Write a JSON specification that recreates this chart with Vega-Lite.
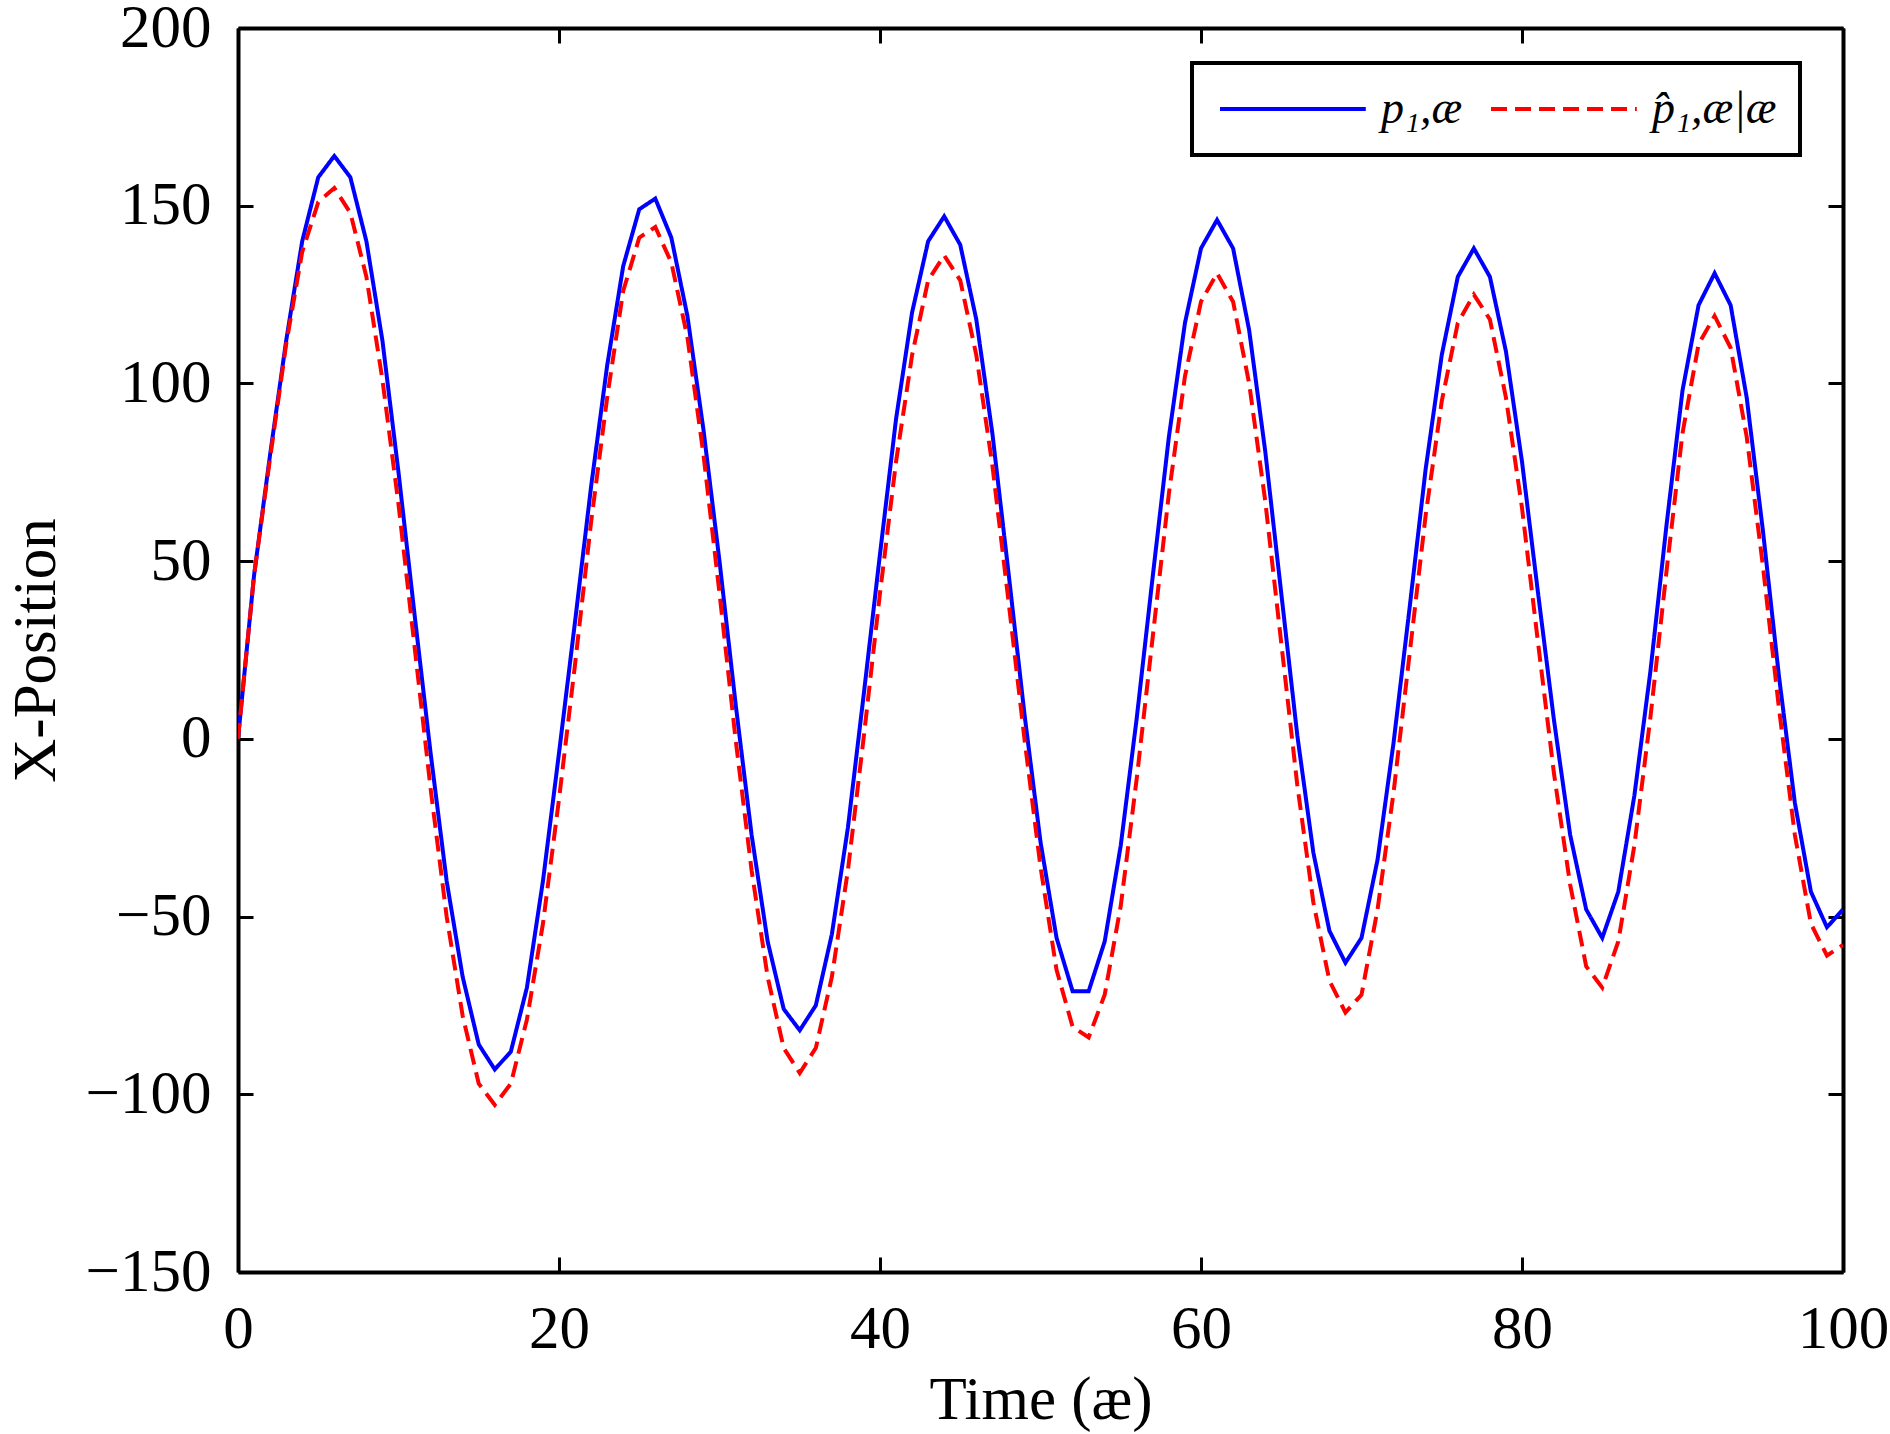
{
  "$schema": "https://vega.github.io/schema/vega-lite/v6.json",
  "width": 1605,
  "height": 1244,
  "autosize": {"type": "none"},
  "padding": {"left": 238, "top": 28, "right": 47, "bottom": 162},
  "background": "white",
  "data": {
    "values": [
      {"t": 0, "p": 0, "q": 0}, {"t": 1, "p": 46, "q": 46}, {"t": 2, "p": 80, "q": 79},
      {"t": 3, "p": 112, "q": 111}, {"t": 4, "p": 140, "q": 137}, {"t": 5, "p": 158, "q": 151},
      {"t": 6, "p": 164, "q": 155}, {"t": 7, "p": 158, "q": 148}, {"t": 8, "p": 140, "q": 130},
      {"t": 9, "p": 112, "q": 101}, {"t": 10, "p": 75, "q": 66}, {"t": 11, "p": 35, "q": 26},
      {"t": 12, "p": -4, "q": -14}, {"t": 13, "p": -40, "q": -50}, {"t": 14, "p": -67, "q": -78},
      {"t": 15, "p": -86, "q": -97}, {"t": 16, "p": -93, "q": -103}, {"t": 17, "p": -88, "q": -97},
      {"t": 18, "p": -70, "q": -79}, {"t": 19, "p": -40, "q": -52}, {"t": 20, "p": -4, "q": -17},
      {"t": 21, "p": 33, "q": 21}, {"t": 22, "p": 71, "q": 61}, {"t": 23, "p": 105, "q": 96},
      {"t": 24, "p": 133, "q": 126}, {"t": 25, "p": 149, "q": 141}, {"t": 26, "p": 152, "q": 144},
      {"t": 27, "p": 141, "q": 134}, {"t": 28, "p": 119, "q": 113}, {"t": 29, "p": 87, "q": 80},
      {"t": 30, "p": 50, "q": 41}, {"t": 31, "p": 10, "q": 0}, {"t": 32, "p": -27, "q": -37},
      {"t": 33, "p": -57, "q": -67}, {"t": 34, "p": -76, "q": -87}, {"t": 35, "p": -82, "q": -94},
      {"t": 36, "p": -75, "q": -87}, {"t": 37, "p": -55, "q": -67}, {"t": 38, "p": -25, "q": -37},
      {"t": 39, "p": 13, "q": 1}, {"t": 40, "p": 52, "q": 41}, {"t": 41, "p": 90, "q": 78},
      {"t": 42, "p": 120, "q": 108}, {"t": 43, "p": 140, "q": 129}, {"t": 44, "p": 147, "q": 136},
      {"t": 45, "p": 139, "q": 129}, {"t": 46, "p": 118, "q": 108}, {"t": 47, "p": 86, "q": 77},
      {"t": 48, "p": 47, "q": 39}, {"t": 49, "p": 7, "q": 0}, {"t": 50, "p": -29, "q": -36},
      {"t": 51, "p": -56, "q": -65}, {"t": 52, "p": -71, "q": -81}, {"t": 53, "p": -71, "q": -84},
      {"t": 54, "p": -57, "q": -72}, {"t": 55, "p": -30, "q": -47}, {"t": 56, "p": 6, "q": -11},
      {"t": 57, "p": 46, "q": 29}, {"t": 58, "p": 85, "q": 69}, {"t": 59, "p": 117, "q": 102},
      {"t": 60, "p": 138, "q": 123}, {"t": 61, "p": 146, "q": 131}, {"t": 62, "p": 138, "q": 123},
      {"t": 63, "p": 115, "q": 100}, {"t": 64, "p": 81, "q": 67}, {"t": 65, "p": 41, "q": 27},
      {"t": 66, "p": 1, "q": -13}, {"t": 67, "p": -32, "q": -46}, {"t": 68, "p": -54, "q": -68},
      {"t": 69, "p": -63, "q": -77}, {"t": 70, "p": -56, "q": -72}, {"t": 71, "p": -34, "q": -48},
      {"t": 72, "p": -1, "q": -15}, {"t": 73, "p": 37, "q": 24}, {"t": 74, "p": 76, "q": 63},
      {"t": 75, "p": 108, "q": 95}, {"t": 76, "p": 130, "q": 117}, {"t": 77, "p": 138, "q": 125},
      {"t": 78, "p": 130, "q": 118}, {"t": 79, "p": 109, "q": 96}, {"t": 80, "p": 78, "q": 65},
      {"t": 81, "p": 41, "q": 27}, {"t": 82, "p": 5, "q": -10}, {"t": 83, "p": -27, "q": -41},
      {"t": 84, "p": -48, "q": -64}, {"t": 85, "p": -56, "q": -70}, {"t": 86, "p": -43, "q": -57},
      {"t": 87, "p": -16, "q": -30}, {"t": 88, "p": 19, "q": 6}, {"t": 89, "p": 60, "q": 47},
      {"t": 90, "p": 98, "q": 86}, {"t": 91, "p": 122, "q": 111}, {"t": 92, "p": 131, "q": 119},
      {"t": 93, "p": 122, "q": 110}, {"t": 94, "p": 96, "q": 85}, {"t": 95, "p": 59, "q": 49},
      {"t": 96, "p": 18, "q": 9}, {"t": 97, "p": -18, "q": -27}, {"t": 98, "p": -43, "q": -52},
      {"t": 99, "p": -53, "q": -61}, {"t": 100, "p": -48, "q": -58}
    ]
  },
  "transform": [{"fold": ["p", "q"], "as": ["series", "value"]}],
  "layer": [
    {
      "mark": {"type": "line", "strokeWidth": 4, "clip": true},
      "encoding": {
        "x": {
          "field": "t",
          "type": "quantitative",
          "scale": {"domain": [0, 100], "nice": false},
          "axis": {
            "orient": "bottom",
            "values": [0, 20, 40, 60, 80, 100],
            "labelPadding": 42,
            "title": "Time (æ)",
            "titleBaseline": "alphabetic",
            "titleY": 146
          }
        },
        "y": {
          "field": "value",
          "type": "quantitative",
          "scale": {"domain": [-150, 200], "nice": false},
          "axis": {
            "orient": "left",
            "values": [-150, -100, -50, 0, 50, 100, 150, 200],
            "labelPadding": 42,
            "title": "X-Position",
            "titleAngle": 270,
            "titleBaseline": "alphabetic",
            "titleX": -184
          }
        },
        "color": {
          "field": "series",
          "type": "nominal",
          "scale": {"domain": ["p", "q"], "range": ["#0000ff", "#ff0000"]},
          "legend": {
            "title": null,
            "orient": "none",
            "direction": "horizontal",
            "legendX": 954,
            "legendY": 35,
            "symbolType": "M-1,0H7.1",
            "symbolSize": 1296,
            "labelExpr": "datum.label == 'p' ? 'p\u2081,æ' : 'p\u0302\u2081,æ|æ'"
          }
        },
        "strokeDash": {
          "field": "series",
          "type": "nominal",
          "scale": {"domain": ["p", "q"], "range": [[1, 0], [16, 8]]},
          "legend": {
            "title": null,
            "orient": "none",
            "direction": "horizontal",
            "legendX": 954,
            "legendY": 35,
            "symbolType": "M-1,0H7.1",
            "symbolSize": 1296,
            "labelExpr": "datum.label == 'p' ? 'p\u2081,æ' : 'p\u0302\u2081,æ|æ'"
          }
        }
      }
    },
    {
      "mark": {"type": "point", "opacity": 0, "size": 0},
      "encoding": {
        "x": {
          "field": "t",
          "type": "quantitative",
          "axis": {"orient": "top", "values": [0, 20, 40, 60, 80, 100], "labels": false, "title": null}
        },
        "y": {
          "field": "value",
          "type": "quantitative",
          "axis": {"orient": "right", "values": [-150, -100, -50, 0, 50, 100, 150, 200], "labels": false, "title": null}
        }
      }
    }
  ],
  "resolve": {"axis": {"x": "independent", "y": "independent"}},
  "config": {
    "view": {"stroke": null},
    "axis": {
      "grid": false,
      "domainColor": "black",
      "domainWidth": 4,
      "tickColor": "black",
      "tickWidth": 3,
      "tickSize": -15,
      "labelFont": "Liberation Serif",
      "labelFontSize": 61,
      "labelColor": "black",
      "labelFlush": false,
      "labelOverlap": false,
      "titleFont": "Liberation Serif",
      "titleFontSize": 61,
      "titleFontWeight": "normal",
      "titleColor": "black"
    },
    "legend": {
      "labelFont": "Liberation Serif",
      "labelFontSize": 46,
      "labelFontStyle": "italic",
      "labelColor": "black",
      "labelLimit": 400,
      "labelOffset": 120,
      "symbolStrokeWidth": 4,
      "columnPadding": 20,
      "padding": 23,
      "strokeColor": "black",
      "strokeWidth": 4,
      "fillColor": "white"
    }
  }
}
